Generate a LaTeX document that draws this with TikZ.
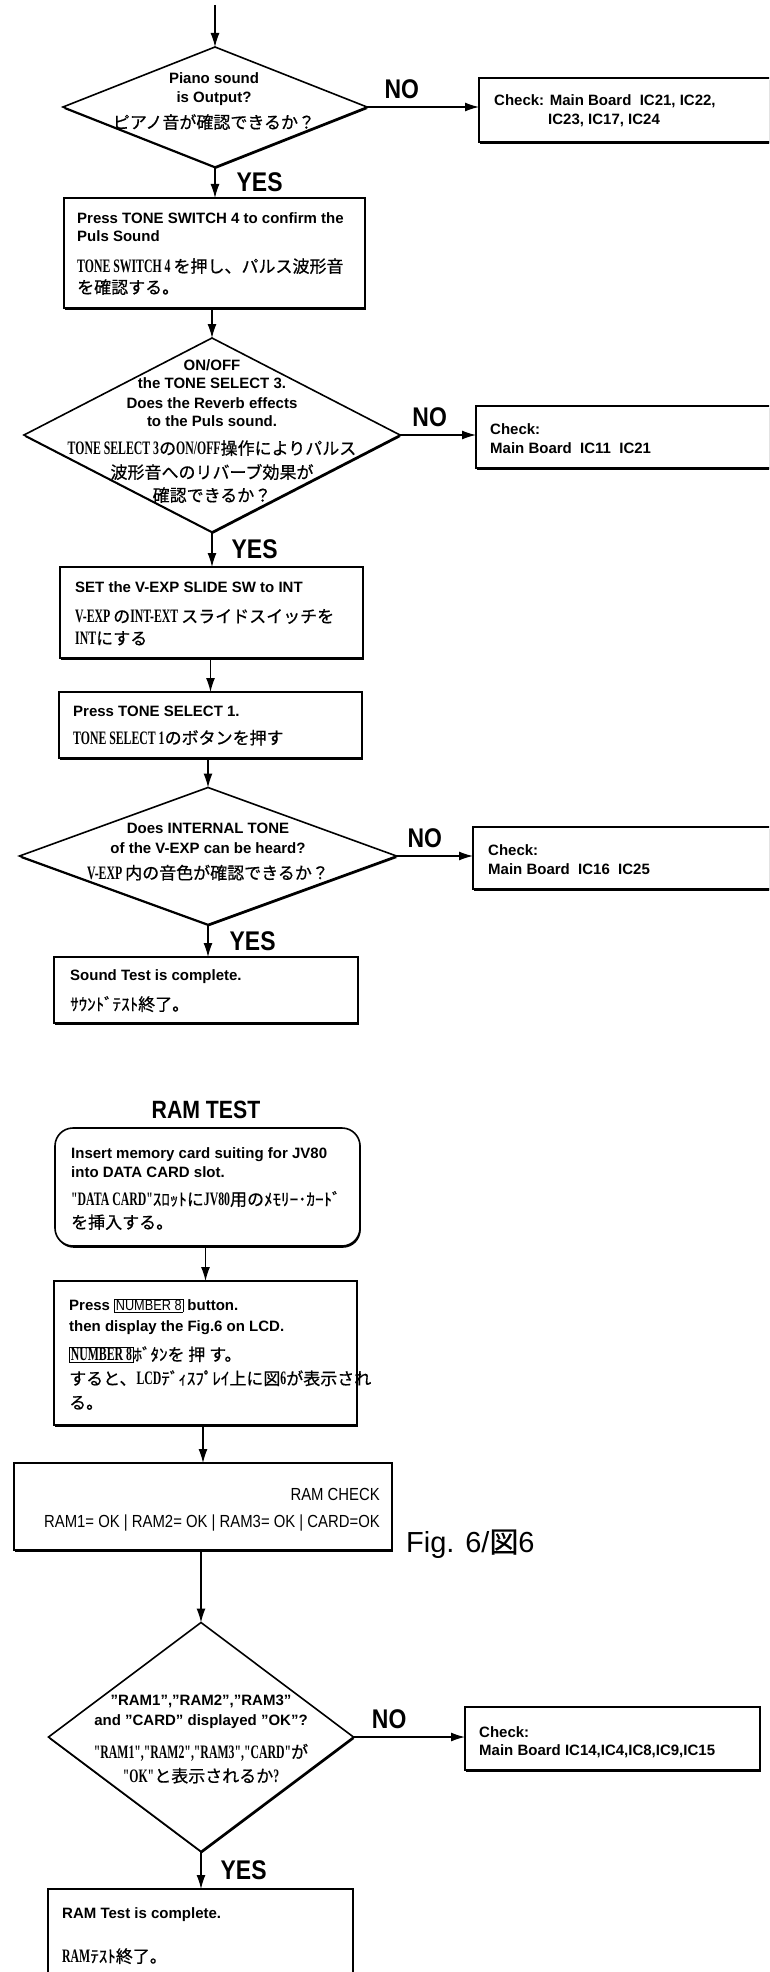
\documentclass[tikz,border=0pt]{standalone}
\usepackage{fontspec}
\setmainfont{Liberation Sans}
\newfontfamily\jpfont[FakeBold=0.6]{Noto Sans CJK JP}
\newfontfamily\hwfont[FakeStretch=0.62]{Liberation Serif}
\newfontfamily\lblfont[FakeStretch=0.85]{Liberation Sans}
\usetikzlibrary{arrows.meta,shapes.geometric,shadows}
\newcommand\jp[1]{{\fontsize{17}{19}\selectfont\mdseries\jpfont #1}}
\newcommand\hw[1]{{\fontsize{19}{19}\selectfont\hwfont #1}}
\setlength\fboxsep{1pt}
\setlength\fboxrule{0.6pt}
\tikzset{
  box/.style={draw,fill=white,line width=1.6pt,inner sep=0,outer sep=0,anchor=north west,
    drop shadow={shadow xshift=0.8pt,shadow yshift=-1.8pt,opacity=1,fill=black}},
  ask/.style={draw,fill=white,line width=1.6pt,diamond,inner sep=0,outer sep=0,
    drop shadow={shadow xshift=0.8pt,shadow yshift=-1.8pt,opacity=1,fill=black}},
  txt/.style={inner sep=0,align=left,anchor=north west,font=\fontsize{15}{19}\selectfont\bfseries},
  asktxt/.style={txt,align=center,anchor=north},
  lbl/.style={inner sep=0,font=\fontsize{27}{27}\selectfont\lblfont\bfseries},
  arr/.style={-{Latex[length=14pt,width=9pt]},line width=1.3pt}
}
\begin{document}
\begin{tikzpicture}[x=1pt,y=-1pt]
            \useasboundingbox(0,0)rectangle(769,1972);
            \clip(0,0)rectangle(769,1972);
            \coordinate(A0)at(215,5);
            \node[ask,minimum width=304pt,minimum height=120pt](q1)at(215,107){};
            \node[ask,minimum width=376pt,minimum height=194pt](q2)at(212,435){};
            \node[ask,minimum width=377pt,minimum height=137pt](q3)at(208,856){};
            \node[ask,minimum width=305pt,minimum height=229pt](q4)at(201,1737){};
            \node[box,minimum width=301pt,minimum height=110pt](s1)at(64,198){};
            \node[box,minimum width=303pt,minimum height=91pt](s2)at(60,567){};
            \node[box,minimum width=303pt,minimum height=66pt](s3)at(59,692){};
            \node[box,minimum width=304pt,minimum height=66pt](s4)at(54,957){};
            \node[box,rounded corners=18pt,minimum width=305pt,minimum height=118pt](s5)at(55,1128){};
            \node[box,minimum width=303pt,minimum height=144pt](s6)at(54,1281){};
            \node[box,minimum width=378pt,minimum height=87pt](s7)at(14,1463){};
            \node[box,minimum width=305pt,minimum height=120pt](s8)at(48,1889){};
            \node[box,minimum width=330pt,minimum height=64pt](c1)at(479,78){};
            \node[box,minimum width=330pt,minimum height=62pt](c2)at(476,406){};
            \node[box,minimum width=330pt,minimum height=62pt](c3)at(473,827){};
            \node[box,minimum width=295pt,minimum height=63pt](c4)at(465,1707){};
            \node[asktxt](q1t)at(214,72.5){Piano sound\\is Output?\\[7pt]\jp{ピアノ音が確認できるか？}};
            \node[asktxt](q2t)at(212,359.5){ON/OFF\\[-1pt]the TONE SELECT 3.\\[1pt]Does the Reverb effects\\[-1pt]to the Puls sound.\\[9pt]\hw{TONE SELECT 3}\jp{の}\hw{ON/OFF}\jp{操作によりパルス}\\[5pt]\jp{波形音へのリバーブ効果が}\\[4pt]\jp{確認できるか？}};
            \node[asktxt](q3t)at(208,822.5){Does INTERNAL TONE\\[1pt]of the V-EXP can be heard?\\[7pt]\hw{V-EXP }\jp{内の音色が確認できるか？}};
            \node[asktxt](q4t)at(201,1694.5){"RAM1","RAM2","RAM3"\\[1pt]and "CARD" displayed "OK"?\\[14pt]\hw{"RAM1","RAM2","RAM3","CARD"}\jp{が}\\[5pt]\hw{"OK"}\jp{と表示されるか}\hw{?}};
            \node[txt](s1t)at(77,212.5){Press TONE SWITCH 4 to confirm the\\[-1pt]Puls Sound\\[12pt]\hw{TONE SWITCH 4 }\jp{を押し、パルス波形音}\\[2pt]\jp{を確認する。}};
            \node[txt](s2t)at(75,581.5){SET the V-EXP SLIDE SW to INT\\[11pt]\hw{V-EXP }\jp{の}\hw{INT-EXT }\jp{スライドスイッチを}\\[3pt]\hw{INT}\jp{にする}};
            \node[txt](s3t)at(73,705.5){Press TONE SELECT 1.\\[9pt]\hw{TONE SELECT 1}\jp{のボタンを押す}};
            \node[txt](s4t)at(70,969.5){Sound Test is complete.\\[11pt]\jp{ｻｳﾝﾄﾞﾃｽﾄ終了。}};
            \node[lbl,font=\fontsize{25}{25}\selectfont\lblfont\bfseries](title)at(206,1110){RAM TEST};
            \node[txt](s5t)at(71,1147.5){Insert memory card suiting for JV80\\into DATA CARD slot.\\[9pt]\hw{"DATA CARD"}\jp{ｽﾛｯﾄに}\hw{JV80}\jp{用のﾒﾓﾘｰ･ｶｰﾄﾞ}\\[4pt]\jp{を挿入する。}};
            \node[txt](s6t)at(69,1298.5){Press \fbox{\mdseries\lblfont NUMBER 8} button.\\[2pt]then display the Fig.6 on LCD.\\[10pt]\fbox{\hw{NUMBER 8}}\jp{ﾎﾞﾀﾝを 押 す。}\\[5pt]\jp{すると、}\hw{LCD}\jp{ﾃﾞｨｽﾌﾟﾚｲ上に図}\hw{6}\jp{が表示され}\\[5pt]\jp{る。}};
            \node[txt,align=right,anchor=north east,font=\fontsize{17.5}{27}\selectfont\lblfont](s7t)at(380,1488){RAM CHECK\\RAM1= OK | RAM2= OK | RAM3= OK | CARD=OK};
            \node[inner sep=0,anchor=west,font=\fontsize{29}{29}\selectfont](fig)at(406,1544){Fig. 6/{\jpfont 図}6};
            \node[txt](s8t)at(62,1907.5){RAM Test is complete.\\[25pt]\hw{RAM}\jp{ﾃｽﾄ終了。}};
            \node[txt](c1t)at(494,94.5){Check: Main Board\ \ IC21, IC22,\\\hspace*{54pt}IC23, IC17, IC24};
            \node[txt](c2t)at(490,423.5){Check:\\Main Board\ \ IC11\ \ IC21};
            \node[txt](c3t)at(488,844.5){Check:\\Main Board\ \ IC16\ \ IC25};
            \node[txt](c4t)at(479,1726.5){Check:\\[-1pt]Main Board IC14,IC4,IC8,IC9,IC15};
            \draw[arr](A0)--(q1.north);
            \draw[arr](q1.south)--(q1.south|-s1.north)node[lbl,midway,right=21pt](yes1){YES};
            \draw[arr](q1.east)--(q1.east-|c1.west)node[lbl,pos=0.31,above=8pt](no1){NO};
            \draw[arr](q2.north|-s1.south)--(q2.north);
            \draw[arr](q2.south)--(q2.south|-s2.north)node[lbl,midway,right=19pt](yes2){YES};
            \draw[arr](q2.east)--(q2.east-|c2.west)node[lbl,pos=0.39,above=8pt](no2){NO};
            \draw[arr](s3.north|-s2.south)--(s3.north);
            \draw[arr](q3.north|-s3.south)--(q3.north);
            \draw[arr](q3.south)--(q3.south|-s4.north)node[lbl,midway,right=21pt](yes3){YES};
            \draw[arr](q3.east)--(q3.east-|c3.west)node[lbl,pos=0.37,above=8pt](no3){NO};
            \draw[arr](s6.north|-s5.south)--(s6.north);
            \draw[arr](s7.north|-s6.south)--(s7.north);
            \draw[arr](q4.north|-s7.south)--(q4.north);
            \draw[arr](q4.south)--(q4.south|-s8.north)node[lbl,midway,right=19pt](yes4){YES};
            \draw[arr](q4.east)--(q4.east-|c4.west)node[lbl,pos=0.32,above=8pt](no4){NO};
\end{tikzpicture}
\end{document}
